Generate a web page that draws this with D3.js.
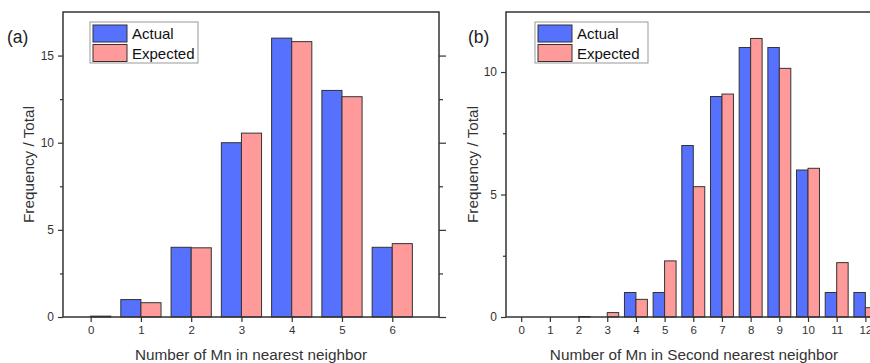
<!DOCTYPE html>
<html>
<head>
<meta charset="utf-8">
<script src="https://cdn.jsdelivr.net/npm/d3@7"></script>
<style>
  html, body { margin: 0; padding: 0; background: #fff; }
  svg { display: block; font-family: "Liberation Sans", Arial, sans-serif; }
</style>
</head>
<body>
<svg id="chart" width="870" height="363"></svg>
<script>
// ---- data ----
const catsA = [0, 1, 2, 3, 4, 5, 6];
const actualA = [0, 1, 4, 10, 16, 13, 4];
const expectedA = [0.05, 0.82, 3.97, 10.55, 15.8, 12.64, 4.21];
const yTicksA = [0, 5, 10, 15];

const catsB = [0, 1, 2, 3, 4, 5, 6, 7, 8, 9, 10, 11, 12];
const actualB = [0, 0, 0, 0, 1, 1, 7, 9, 11, 11, 6, 1, 1];
const expectedB = [0, 0, 0.02, 0.18, 0.72, 2.29, 5.32, 9.1, 11.37, 10.15, 6.07, 2.22, 0.38];
const yTicksB = [0, 5, 10];

const seriesNames = ["Actual", "Expected"];
const colors = ["#5671fd", "#fe9a9a"];
const ink = "#333";

const svg = d3.select("#chart");

// one panel = one framed bar chart
function drawPanel(p) {
  const x = d3.scaleLinear().domain(p.xDomain).range([p.left, p.right]);
  const y = d3.scaleLinear().domain(p.yDomain).range([p.bottom, p.top]);
  const g = svg.append("g");
  const bw = 0.4;

  // bars: actual to the left of the tick, expected to the right
  [p.actual, p.expected].forEach((vals, s) => {
    g.selectAll(null)
      .data(p.cats.map((c, i) => ({ c, v: vals[i] })).filter(d => d.v > 0))
      .enter().append("rect")
      .attr("x", d => x(d.c - bw + s * bw))
      .attr("width", x(bw) - x(0))
      .attr("y", d => y(d.v))
      .attr("height", d => y(0) - y(d.v))
      .attr("fill", colors[s])
      .attr("stroke", ink)
      .attr("stroke-width", 1);
  });

  // left axis, outward ticks
  const minor = d3.range(p.yDomain[0] + 2.5, p.yDomain[1], 5);
  g.append("g").attr("transform", `translate(${p.left},0)`)
    .call(d3.axisLeft(y).tickValues(minor).tickSize(3).tickFormat(""));
  g.append("g").attr("transform", `translate(${p.left},0)`)
    .call(d3.axisLeft(y).tickValues(p.yTicks).tickSize(5).tickPadding(4))
    .selectAll("text").attr("font-size", 12).attr("fill", ink);

  // right axis, inward ticks
  g.append("g").attr("transform", `translate(${p.right},0)`)
    .call(d3.axisLeft(y).tickValues(minor).tickSize(-4).tickFormat(""));
  g.append("g").attr("transform", `translate(${p.right},0)`)
    .call(d3.axisLeft(y).tickValues(p.yTicks).tickSize(-7).tickFormat(""));

  // bottom axis
  g.append("g").attr("transform", `translate(0,${p.bottom})`)
    .call(d3.axisBottom(x).tickValues(p.cats).tickSize(5).tickPadding(4).tickFormat(d3.format("d")))
    .selectAll("text").attr("font-size", 11.5).attr("fill", ink);

  g.selectAll(".domain").remove();
  g.selectAll(".tick line").attr("stroke", ink).attr("stroke-width", 1.2);

  // frame
  g.append("rect")
    .attr("x", p.left).attr("y", p.top)
    .attr("width", p.right - p.left).attr("height", p.bottom - p.top)
    .attr("fill", "none").attr("stroke", ink).attr("stroke-width", 1.5);

  // titles
  g.append("text")
    .attr("transform", `translate(${p.yTitleX},${(p.top + p.bottom) / 2}) rotate(-90)`)
    .attr("text-anchor", "middle").attr("font-size", 15.3).attr("fill", ink)
    .text("Frequency / Total");
  g.append("text")
    .attr("x", (p.left + p.right) / 2).attr("y", 360)
    .attr("text-anchor", "middle").attr("font-size", 15.3).attr("fill", ink)
    .text(p.xTitle);
  g.append("text")
    .attr("x", p.tagX).attr("y", 43)
    .attr("font-size", 17.5).attr("fill", "#222")
    .text(p.tag);

  // legend
  const lg = g.append("g").attr("transform", `translate(${p.legX},22)`);
  lg.append("rect").attr("width", p.legW).attr("height", 41)
    .attr("fill", "#fff").attr("stroke", "#999").attr("stroke-width", 1);
  seriesNames.forEach((name, i) => {
    lg.append("rect")
      .attr("x", 3).attr("y", 3 + i * 19.5)
      .attr("width", 34).attr("height", 17)
      .attr("fill", colors[i]).attr("stroke", ink).attr("stroke-width", 1);
    lg.append("text")
      .attr("x", 42).attr("y", 17 + i * 19.5)
      .attr("font-size", 15).attr("fill", "#111")
      .text(name);
  });
}

drawPanel({
  cats: catsA, actual: actualA, expected: expectedA, yTicks: yTicksA,
  xDomain: [-0.55, 6.93], yDomain: [0, 17.5],
  left: 63, right: 439, top: 12, bottom: 317,
  yTitleX: 34, xTitle: "Number of Mn in nearest neighbor",
  tag: "(a)", tagX: 7, legX: 90, legW: 108
});

drawPanel({
  cats: catsB, actual: actualB, expected: expectedB, yTicks: yTicksB,
  xDomain: [-0.53, 12.58], yDomain: [0, 12.45],
  left: 506, right: 882, top: 12, bottom: 317,
  yTitleX: 478, xTitle: "Number of Mn in Second nearest neighbor",
  tag: "(b)", tagX: 468, legX: 535, legW: 113
});
</script>
</body>
</html>
